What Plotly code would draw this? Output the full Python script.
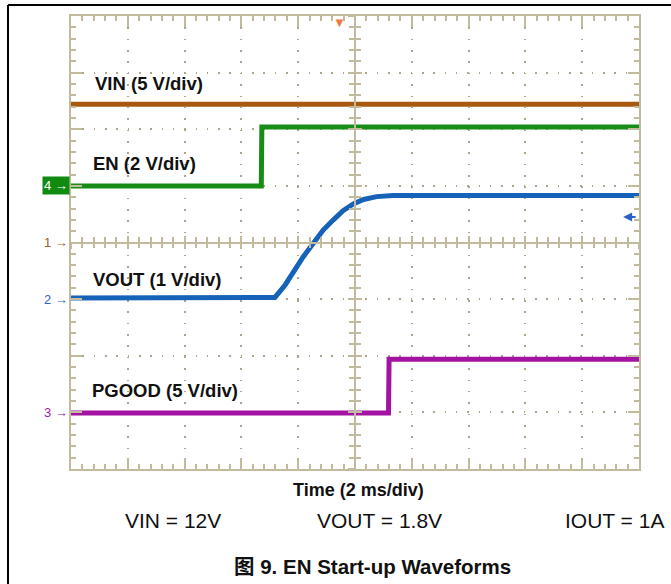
import plotly.graph_objects as go

# ---- data (divisions: x 0..10, y -4..4) ----
time_vin = [0, 10]
vin = [2.44, 2.44]

time_en = [0, 3.35, 3.36, 10]
en = [1.0, 1.0, 2.04, 2.04]

time_vout = [0, 3.59, 3.77, 3.91, 4.09, 4.27, 4.44, 4.62, 4.79, 4.97, 5.15, 5.38, 5.67, 10]
vout = [-0.98, -0.97, -0.75, -0.52, -0.25, -0.01, 0.22, 0.40, 0.56, 0.68, 0.76, 0.81, 0.83, 0.83]

time_pg = [0, 5.59, 5.60, 10]
pgood = [-3.01, -3.01, -2.06, -2.06]

labels = ["VIN (5 V/div)", "EN (2 V/div)", "VOUT (1 V/div)", "PGOOD (5 V/div)"]
label_x = [0.39, 0.35, 0.35, 0.33]
label_y = [2.80, 1.39, -0.645, -2.62]

ch_names = ["1", "2", "3"]
ch_levels = [0.0, -1.0, -3.0]
ch_colors = ["#a0602a", "#3a64c0", "#a020a0"]

W, H = 671, 584
L, R, T, B = 71, 32, 16, 115
PW, PH = W - L - R, H - T - B

GRID = "#aea68a"
BORDER = "#c2ba9c"
FONT = "Arial, Liberation Sans, Noto Sans CJK SC, sans-serif"

def px_x(X):
    return (X - L) / PW

def px_y(Y):
    return (H - B - Y) / PH

fig = go.Figure()
fig.add_trace(go.Scatter(x=time_vin, y=vin, mode="lines", line=dict(color="#a8590f", width=5), hoverinfo="skip"))
fig.add_trace(go.Scatter(x=time_en, y=en, mode="lines", line=dict(color="#178c17", width=5), hoverinfo="skip"))
fig.add_trace(go.Scatter(x=time_vout, y=vout, mode="lines", line=dict(color="#1662b8", width=5), hoverinfo="skip"))
fig.add_trace(go.Scatter(x=time_pg, y=pgood, mode="lines", line=dict(color="#a312a3", width=5), hoverinfo="skip"))
# carriers for the centre crosshair axes
fig.add_trace(go.Scatter(x=[], y=[], xaxis="x2", yaxis="y2", showlegend=False, hoverinfo="skip"))
fig.add_trace(go.Scatter(x=[], y=[], xaxis="x3", yaxis="y3", showlegend=False, hoverinfo="skip"))

common = dict(showticklabels=False, zeroline=False, fixedrange=True)
fig.update_layout(
    width=W, height=H, margin=dict(l=L, r=R, t=T, b=B),
    paper_bgcolor="white", plot_bgcolor="white", showlegend=False,
    font=dict(family=FONT, color="black"),
    xaxis=dict(range=[0, 10], dtick=1, tick0=0, showgrid=True, gridcolor=GRID, gridwidth=1.6,
               griddash="1.6px,9.76px", showline=True, linecolor=BORDER, linewidth=2, mirror="ticks",
               ticks="inside", ticklen=11, tickcolor=BORDER, tickwidth=1.5,
               minor=dict(dtick=0.2, ticks="inside", ticklen=5, tickcolor=BORDER, tickwidth=1.5, showgrid=False),
               **common),
    yaxis=dict(range=[-4, 4], dtick=1, tick0=0, showgrid=True, gridcolor=GRID, gridwidth=1.6,
               griddash="1.6px,9.72px", showline=True, linecolor=BORDER, linewidth=2, mirror="ticks",
               ticks="inside", ticklen=11, tickcolor=BORDER, tickwidth=1.5,
               minor=dict(dtick=0.2, ticks="inside", ticklen=5, tickcolor=BORDER, tickwidth=1.5, showgrid=False),
               **common),
)
for n, side in (("2", "inside"), ("3", "outside")):
    fig.update_layout({
        "xaxis" + n: dict(range=[0, 10], overlaying="x", anchor="free", position=0.5, dtick=1, tick0=0,
                          showgrid=False, showline=True, linecolor=BORDER, linewidth=1.5,
                          ticks=side, ticklen=6, tickcolor=BORDER, tickwidth=1.5,
                          minor=dict(dtick=0.2, ticks=side, ticklen=5, tickcolor=BORDER, tickwidth=1.5),
                          **common),
        "yaxis" + n: dict(range=[-4, 4], overlaying="y", anchor="free", position=0.5, dtick=1, tick0=0,
                          showgrid=False, showline=True, linecolor=BORDER, linewidth=1.5,
                          ticks=side, ticklen=6, tickcolor=BORDER, tickwidth=1.5,
                          minor=dict(dtick=0.2, ticks=side, ticklen=5, tickcolor=BORDER, tickwidth=1.5),
                          **common),
    })

ann = []
for t, x, y in zip(labels, label_x, label_y):
    ann.append(dict(text="<b>%s</b>" % t, x=x, y=y, xref="x", yref="y", xanchor="left", yanchor="middle",
                    showarrow=False, font=dict(size=18.5, family=FONT, color="#111")))
for name, lvl, col in zip(ch_names, ch_levels, ch_colors):
    ann.append(dict(text=name + " \u2192", x=-0.002, y=lvl, xref="paper", yref="y", xanchor="right",
                    yanchor="middle", showarrow=False, font=dict(size=13, color=col)))
ann.append(dict(text="4 \u2192", x=-0.002, y=1.0, xref="paper", yref="y", xanchor="right", yanchor="middle",
                showarrow=False, bgcolor="#118a11", borderpad=1, font=dict(size=13, color="white")))
ann.append(dict(text="", x=9.72, y=0.45, xref="x", yref="y", showarrow=True, ax=14, ay=0,
                arrowhead=2, arrowsize=1, arrowwidth=1.8, arrowcolor="#2a60c8", standoff=0))
ann.append(dict(text="\u25bc", x=4.72, y=1.0, xref="x", yref="paper", yanchor="top", yshift=3, showarrow=False,
                font=dict(size=13, color="#f07a40")))
ann.append(dict(text="<b>Time (2 ms/div)</b>", x=px_x(358), y=px_y(490), xref="paper", yref="paper",
                xanchor="center", yanchor="middle", showarrow=False, font=dict(size=18, color="#111")))
for t, X in (("VIN = 12V", 123), ("VOUT = 1.8V", 315), ("IOUT = 1A", 563)):
    ann.append(dict(text=t, x=px_x(X), y=px_y(520), xref="paper", yref="paper", xanchor="left",
                    yanchor="middle", showarrow=False, font=dict(size=21, color="#111")))
ann.append(dict(text="<b>图 9. EN Start-up Waveforms</b>", x=px_x(372), y=px_y(566), xref="paper", yref="paper",
                xanchor="center", yanchor="middle", showarrow=False, font=dict(size=20.5, color="#111")))
fig.update_layout(annotations=ann)

fig.add_shape(type="line", xref="paper", yref="paper", x0=px_x(8), x1=px_x(8), y0=px_y(590), y1=px_y(5),
              line=dict(color="black", width=2))
fig.add_shape(type="line", xref="paper", yref="paper", x0=px_x(8), x1=px_x(680), y0=px_y(5), y1=px_y(5),
              line=dict(color="black", width=2))

fig.write_html("out.html", config={"displayModeBar": False},
               post_script="document.body.style.margin='0';document.body.style.overflow='hidden';")
